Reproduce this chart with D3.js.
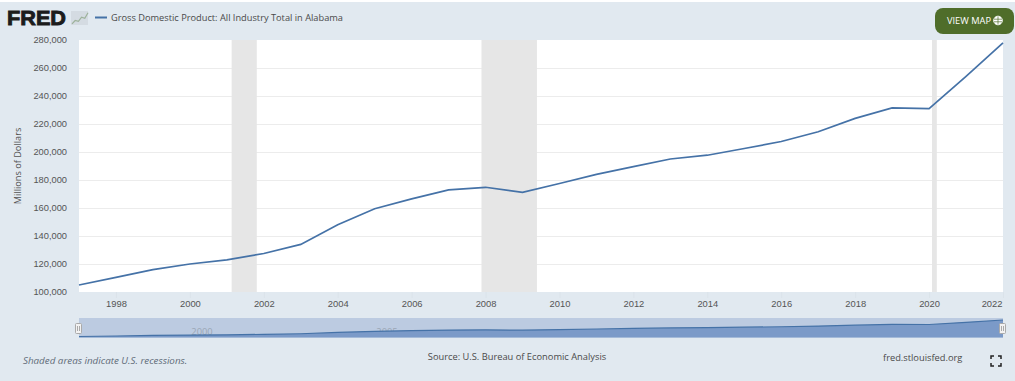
<!DOCTYPE html>
<html><head><meta charset="utf-8">
<script src="https://cdn.jsdelivr.net/npm/d3@7/dist/d3.min.js"></script>
<style>html,body{margin:0;padding:0;background:#fff;overflow:hidden}svg{display:block;font-family:"Open Sans",sans-serif}</style>
</head><body><svg id="c" width="1015" height="381"></svg>
<script>
const years=[1997,1998,1999,2000,2001,2002,2003,2004,2005,2006,2007,2008,2009,2010,2011,2012,2013,2014,2015,2016,2017,2018,2019,2020,2021,2022];
const gdp=[105000,110500,116000,120000,123000,127500,134000,148000,159500,166500,173000,174800,171200,177500,184000,189500,195000,197700,202500,207500,214500,224000,231500,231000,254000,278000];
const recessionStarts=[2001.13,2007.89,2020.08];
const recessionEnds=[2001.81,2009.39,2020.21];
const yTicks=[100000,120000,140000,160000,180000,200000,220000,240000,260000,280000];
const xTicks=[1998,2000,2002,2004,2006,2008,2010,2012,2014,2016,2018,2020,2022];
const title="Gross Domestic Product: All Industry Total in Alabama";
const yLabel="Millions of Dollars";
const noteLeft="Shaded areas indicate U.S. recessions.";
const noteCenter="Source: U.S. Bureau of Economic Analysis";
const noteRight="fred.stlouisfed.org";

const svg=d3.select("#c");
const bg="#e1e9f0", textCol="#555";
svg.append("rect").attr("y",2).attr("width",1015).attr("height",379).attr("fill",bg);
const x=d3.scaleLinear().domain([1997,2022]).range([79,1003]);
const y=d3.scaleLinear().domain([100000,280000]).range([292,40]);
svg.append("rect").attr("x",79).attr("y",40).attr("width",924).attr("height",252).attr("fill","#fff");
svg.append("g").selectAll("line").data(yTicks.slice(1,-1)).join("line")
 .attr("x1",79).attr("x2",1003).attr("y1",d=>y(d)+.5).attr("y2",d=>y(d)+.5).attr("stroke","#ececec");
svg.append("g").selectAll("rect").data(recessionStarts).join("rect")
 .attr("x",d=>x(d)).attr("width",(d,i)=>x(recessionEnds[i])-x(d)).attr("y",40).attr("height",252).attr("fill","#e6e6e6");
const ax=d3.axisBottom(x).tickValues(xTicks).tickFormat(d3.format("d")).tickSize(6).tickPadding(2);
const gx=svg.append("g").attr("transform","translate(0,292)").call(ax);
gx.select(".domain").remove();
gx.selectAll("line").attr("stroke","#dbe3ea");
gx.selectAll("text").attr("font-size",9.4).attr("fill",textCol);
gx.selectAll(".tick").filter(d=>d===2022).select("text").attr("text-anchor","end").attr("dx",-1);
const ay=d3.axisLeft(y).tickValues(yTicks).tickFormat(d3.format(",")).tickSize(0).tickPadding(12);
const gy=svg.append("g").attr("transform","translate(79,0)").call(ay);
gy.select(".domain").remove();
gy.selectAll("text").attr("font-size",9.3).attr("fill",textCol);
svg.append("text").attr("transform","translate(21,166) rotate(-90)").attr("text-anchor","middle").attr("font-size",9.2).attr("fill",textCol).text(yLabel);
const line=d3.line().x((d,i)=>x(years[i])).y(d=>y(d));
svg.append("path").datum(gdp).attr("d",line).attr("fill","none").attr("stroke","#4572a7").attr("stroke-width",1.7);
// header
svg.append("text").attr("x",7).attr("y",25).attr("font-family","Liberation Sans").attr("font-weight",700).attr("font-size",21).attr("stroke","#1c1c1c").attr("stroke-width",.9).attr("fill","#1c1c1c").attr("textLength",59).attr("lengthAdjust","spacingAndGlyphs").text("FRED");
const iconX=d3.scaleLinear().domain([0,5]).range([72,88]);
const iconY=d3.scaleLinear().domain([0,5]).range([25,11]);
svg.append("rect").attr("x",71).attr("y",11).attr("width",17).attr("height",14).attr("fill","#d4dbe2");
svg.append("path").datum([0.4,1.6,1.3,2.8,2.4,4.4]).attr("d",d3.line().x((d,i)=>iconX(i)).y(d=>iconY(d))).attr("fill","none").attr("stroke","#9db29b").attr("stroke-width",1.2);
svg.append("line").attr("x1",95).attr("x2",107).attr("y1",17.5).attr("y2",17.5).attr("stroke","#4572a7").attr("stroke-width",2);
svg.append("text").attr("x",111).attr("y",21).attr("font-size",9.6).attr("textLength",232).attr("lengthAdjust","spacingAndGlyphs").attr("fill","#4a4a4a").text(title);
// button
svg.append("rect").attr("x",935).attr("y",8).attr("width",79).attr("height",26).attr("rx",8).attr("fill","#4f6d2a");
svg.append("text").attr("x",947).attr("y",24).attr("font-size",9).attr("textLength",44).attr("lengthAdjust","spacingAndGlyphs").attr("fill","#fff").text("VIEW MAP");
const globe=svg.append("g").attr("transform","translate(998,20.5)").attr("fill","none").attr("stroke","#fff").attr("stroke-width",1);
globe.append("circle").attr("r",4.3).attr("fill","#fff");
globe.append("path").attr("d","M-4 -1.3H4M-4 1.3H4M0 -4V4").attr("stroke",'#4f6d2a').attr("stroke-width",.7);
// navigator
const nx=d3.scaleLinear().domain([1997,2022]).range([79,1003]);
svg.append("rect").attr("x",79).attr("y",318).attr("width",924).attr("height",19.5).attr("fill","#bccbe1");
svg.append("text").attr("x",202).attr("y",335).attr("text-anchor","middle").attr("font-size",9.4).attr("fill","#9aa6b5").text("2000");
svg.append("text").attr("x",387).attr("y",335).attr("text-anchor","middle").attr("font-size",9.4).attr("fill","#9aa6b5").text("2005");
const nyy=d3.scaleLinear().domain([100000,278000]).range([337,320]);
svg.append("path").datum(gdp).attr("d",d3.area().x((d,i)=>nx(years[i])).y0(337.5).y1(d=>nyy(d))).attr("fill","#7b9ac8");
svg.append("path").datum(gdp).attr("d",d3.line().x((d,i)=>nx(years[i])).y(d=>nyy(d))).attr("fill","none").attr("stroke","#4572a7").attr("stroke-width",1.2);
[78.5,1002.5].forEach(h=>{svg.append("rect").attr("x",h-3).attr("y",323.5).attr("width",6).attr("height",10).attr("rx",1).attr("fill","#f2f2f2").attr("stroke","#aaa");
 svg.append("path").attr("d",`M${h-1} 326V331M${h+1} 326V331`).attr("stroke","#aaa");});
// footer
svg.append("text").attr("x",23).attr("y",364).attr("font-size",9.8).attr("font-style","italic").attr("fill","#5f6b78").text(noteLeft);
svg.append("text").attr("x",517).attr("y",360).attr("text-anchor","middle").attr("font-size",9.3).attr("fill","#4a4a4a").text(noteCenter);
svg.append("text").attr("x",883).attr("y",360.5).attr("font-size",9.3).attr("fill","#4a4a4a").text(noteRight);
svg.append("path").attr("d","M991 359V356H994M998 356H1001V359M1001 363V366H998M994 366H991V363").attr("fill","none").attr("stroke","#222").attr("stroke-width",1.5);
</script></body></html>
